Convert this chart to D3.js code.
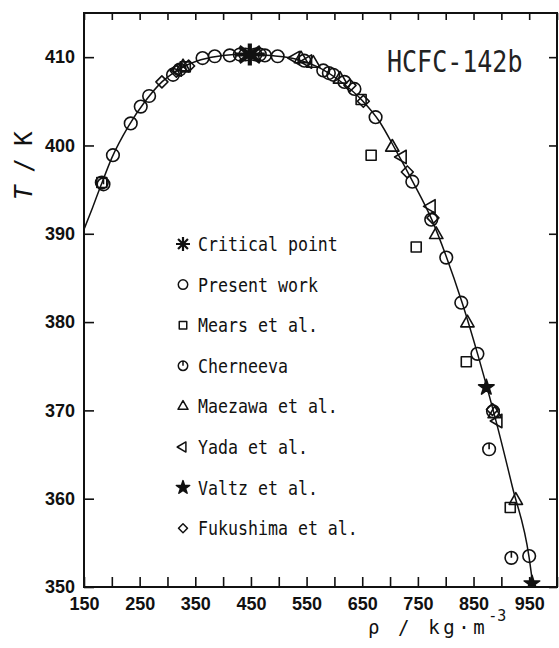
<!DOCTYPE html>
<html>
<head>
<meta charset="utf-8">
<script src="https://cdn.jsdelivr.net/npm/d3@7"></script>
<style>
  body { margin: 0; background: #fff; }
  svg { display: block; }
  .axis text { font-family: "Liberation Sans", Arial, sans-serif; font-weight: bold; font-size: 18px; fill: #111; }
  .axis line { stroke: #111; stroke-width: 1.6; }
  .mono { font-family: "DejaVu Sans Mono", monospace; fill: #111; }
</style>
</head>
<body>
<svg width="559" height="648"></svg>
<script>
// saturation curve (rho kg/m3, T K)
var curveRho = [150, 165, 180, 200, 230, 260, 290, 320, 360, 400, 448, 490, 530, 570, 610, 650, 680, 710, 740, 775, 800, 830, 860, 890, 920, 950, 957];
var curveT   = [390.5, 392.9, 395.4, 398.6, 402.2, 405.0, 407.2, 408.6, 409.7, 410.2, 410.35, 410.15, 409.8, 408.9, 407.3, 405.1, 402.8, 399.5, 396.0, 391.6, 387.6, 382.1, 375.8, 368.9, 361.3, 353.3, 350.0];

var criticalPoint = [[448, 410.3]];
var presentWork = [[182, 395.8], [202, 398.9], [234, 402.5], [252, 404.4], [267, 405.6], [310, 408.0], [322, 408.6],
  [363, 409.9], [385, 410.1], [412, 410.2], [430, 410.3], [440, 410.3], [458, 410.3], [466, 410.3], [475, 410.2],
  [498, 410.1], [546, 409.6], [580, 408.5], [598, 408.0], [618, 407.2], [636, 406.4], [674, 403.2], [740, 395.9],
  [774, 391.6], [801, 387.3], [828, 382.2], [857, 376.4], [885, 369.9], [950, 353.5]];
var mears = [[182, 395.8], [332, 408.9], [648, 405.2], [666, 398.9], [747, 388.5], [837, 375.5], [916, 359.0]];
var cherneeva = [[185, 395.6], [590, 408.2], [878, 365.6], [918, 353.3]];
var maezawa = [[328, 408.9], [540, 409.8], [562, 409.3], [610, 407.5], [704, 399.8], [783, 389.9], [839, 379.9], [888, 369.6], [926, 359.8]];
var yada = [[318, 408.6], [530, 409.9], [552, 409.5], [722, 398.7], [774, 393.1], [894, 368.8]];
var valtz = [[873, 372.6], [955, 350.4]];
var fukushima = [[290, 407.2], [316, 408.4], [338, 409.0], [628, 406.8], [652, 405.0], [731, 397.0], [777, 391.8], [884, 370.1]];

var legendNames = ["Critical point", "Present work", "Mears et al.", "Cherneeva", "Maezawa et al.", "Yada et al.", "Valtz et al.", "Fukushima et al."];
var legendKinds = ["asterisk", "circle", "square", "cherneeva", "triangle", "left", "star", "diamond"];

var xTicks = d3.range(150, 1001, 50);
var xLabels = [150, 250, 350, 450, 550, 650, 750, 850, 950];
var yTicks = [350, 360, 370, 380, 390, 400, 410];

var svg = d3.select("svg"),
    margin = {top: 13, right: 1, bottom: 61, left: 84},
    width = svg.attr("width") - margin.left - margin.right,
    height = svg.attr("height") - margin.top - margin.bottom,
    g = svg.append("g").attr("transform", "translate(" + margin.left + "," + margin.top + ")");

var x = d3.scaleLinear().domain([150, 1000]).range([0, width - 1]),
    y = d3.scaleLinear().domain([350, 415]).range([height, 0]);

// marker shapes, big = plot size, small = legend size
function shape(kind, big) {
  var k = big ? 1 : 0.75;
  if (kind === "circle") return d3.symbol(d3.symbolCircle, Math.PI * 6.3 * 6.3 * k * k)();
  if (kind === "square") return d3.symbol(d3.symbolSquare, 100 * k * k)();
  if (kind === "triangle" || kind === "left") return d3.symbol(d3.symbolTriangle, 78 * k * k)();
  if (kind === "diamond") return d3.symbol(d3.symbolSquare, 72 * k * k)();
  if (kind === "star") return d3.symbol(d3.symbolStar, (big ? 75 : 55))();
  if (kind === "cherneeva") {
    var r = 6.3 * k;
    return d3.symbol(d3.symbolCircle, Math.PI * r * r)() + "M0," + (-r) + "L0,0";
  }
  if (kind === "asterisk") {
    var a = big ? 11 : 7, b = big ? 15 : 7, p = d3.path();
    for (var i = 0; i < 4; i++) {
      var t = i * Math.PI / 4;
      p.moveTo(-b * Math.sin(t), -a * Math.cos(t));
      p.lineTo(b * Math.sin(t), a * Math.cos(t));
    }
    return p.toString();
  }
}
function rot(kind) { return kind === "left" ? " rotate(-90)" : kind === "diamond" ? " rotate(45)" : ""; }
function styleMark(sel, kind, big) {
  sel.attr("fill", kind === "star" ? "#111" : "none")
     .attr("stroke", "#111")
     .attr("stroke-width", kind === "asterisk" ? (big ? 4.2 : 2.2) : (big ? 1.6 : 1.5))
     .attr("stroke-linejoin", "round");
}

g.append("clipPath").attr("id", "clip")
  .append("rect").attr("width", width - 1).attr("height", height);

// axes
g.append("g")
    .attr("class", "axis axis--x")
    .attr("transform", "translate(0," + height + ")")
    .call(d3.axisBottom(x).tickValues(xTicks).tickSize(-10).tickPadding(10)
      .tickFormat(function(d) { return xLabels.indexOf(d) >= 0 ? d : ""; }))
    .call(function(a) { a.select(".domain").remove(); });

g.append("g")
    .attr("class", "axis")
    .call(d3.axisTop(x).tickValues(xTicks).tickSize(-7).tickFormat(""))
    .call(function(a) { a.select(".domain").remove(); });

g.append("g")
    .attr("class", "axis axis--y")
    .call(d3.axisLeft(y).tickValues(yTicks).tickSize(-10).tickPadding(9).tickFormat(d3.format("d")))
    .call(function(a) { a.select(".domain").remove(); });

g.append("g")
    .attr("class", "axis")
    .attr("transform", "translate(" + (width - 1) + ",0)")
    .call(d3.axisRight(y).tickValues(yTicks).tickSize(-8).tickFormat(""))
    .call(function(a) { a.select(".domain").remove(); });

// curve
var line = d3.line()
    .curve(d3.curveMonotoneX)
    .x(function(d) { return x(d[0]); })
    .y(function(d) { return y(d[1]); });

g.append("path")
    .datum(curveRho.map(function(r, i) { return [r, curveT[i]]; }))
    .attr("clip-path", "url(#clip)")
    .attr("d", line)
    .attr("fill", "none")
    .attr("stroke", "#111")
    .attr("stroke-width", 1.5);

// data points
var series = [
  {kind: "circle", values: presentWork},
  {kind: "square", values: mears},
  {kind: "cherneeva", values: cherneeva},
  {kind: "triangle", values: maezawa},
  {kind: "left", values: yada},
  {kind: "diamond", values: fukushima},
  {kind: "star", values: valtz},
  {kind: "asterisk", values: criticalPoint}
];

var marks = g.append("g").attr("clip-path", "url(#clip)");
series.forEach(function(s) {
  marks.append("g").selectAll("path")
    .data(s.values)
    .enter().append("path")
      .attr("d", shape(s.kind, true))
      .attr("transform", function(d) { return "translate(" + x(d[0]) + "," + y(d[1]) + ")" + rot(s.kind); })
      .call(styleMark, s.kind, true);
});

g.append("rect")
    .attr("width", width - 1)
    .attr("height", height)
    .attr("fill", "none")
    .attr("stroke", "#111")
    .attr("stroke-width", 2);

// legend
var legend = svg.selectAll(".legend")
  .data(legendNames)
  .enter().append("g")
    .attr("class", "legend")
    .attr("transform", function(d, i) { return "translate(183," + (244 + i * 40.6) + ")"; });

legend.append("path")
    .attr("d", function(d, i) { return shape(legendKinds[i], false); })
    .attr("transform", function(d, i) { return rot(legendKinds[i]).trim() || null; })
    .each(function(d, i) { d3.select(this).call(styleMark, legendKinds[i], false); });

legend.append("text")
    .attr("class", "mono")
    .attr("transform", "translate(15,7) scale(1,1.16)")
    .style("font-size", "16.6px")
    .text(function(d) { return d; });

// labels
svg.append("text")
    .attr("class", "mono")
    .attr("transform", "translate(387,72) scale(1,1.2)")
    .style("font-size", "25px")
    .style("fill", "#222")
    .text("HCFC-142b");

svg.append("text")
    .attr("class", "mono")
    .attr("transform", "translate(32,166) rotate(-90)")
    .attr("text-anchor", "middle")
    .style("font-size", "24px")
    .style("letter-spacing", "-1px")
    .html('<tspan font-style="italic">T</tspan> / K');

var xt = svg.append("text")
    .attr("class", "mono")
    .attr("x", 368)
    .attr("y", 634)
    .style("font-size", "19px")
    .style("letter-spacing", "3.6px");
xt.append("tspan").text("ρ / kg·m");
xt.append("tspan").attr("dy", -13).style("font-size", "15px").style("letter-spacing", "0px").text("-3");
</script>
</body>
</html>
